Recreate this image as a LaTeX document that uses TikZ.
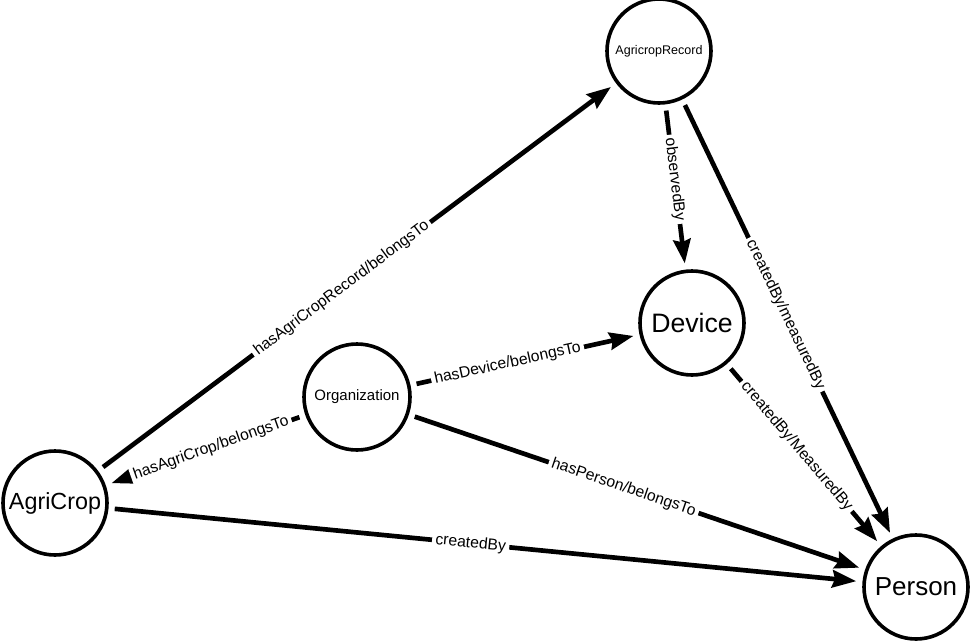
\documentclass[tikz,border=0pt]{standalone}
\usepackage{fontspec}
\setmainfont{Liberation Sans}
\usetikzlibrary{arrows.meta}
\begin{document}
\begin{tikzpicture}[x=0.75pt,y=-0.75pt,
  ent/.style={circle,draw,line width=2.7pt,minimum size=78pt,inner sep=0pt,outer sep=6pt},
  rel/.style={line width=3.5pt,-{Stealth[length=18pt,width=13pt,inset=2pt]}},
  lab/.style={fill=white,inner sep=2.5pt,font=\fontsize{11.8}{13}\selectfont,sloped}]
\useasboundingbox (0,0) rectangle (971,643);
\node[ent,font=\fontsize{9.4}{11}\selectfont] (rec) at (659,51) {AgricropRecord};
\node[ent,font=\fontsize{20}{24}\selectfont] (dev) at (692,323) {Device};
\node[ent,minimum size=79.5pt,font=\fontsize{11.25}{13}\selectfont] (org) at (357,397) {Organization};
\node[ent,font=\fontsize{17.5}{20}\selectfont] (crop) at (55,503) {AgriCrop};
\node[ent,font=\fontsize{19.5}{23}\selectfont] (per) at (916,587) {Person};

\draw[rel] (crop) -- node[lab,pos=0.47] {hasAgriCropRecord/belongsTo} (rec);
\draw[rel] (org) -- node[lab,pos=0.47] {hasAgriCrop/belongsTo} (crop);
\draw[rel] (org) -- node[lab,pos=0.42] {hasDevice/belongsTo} (dev);
\draw[rel] (org) -- node[lab,pos=0.47] {hasPerson/belongsTo} (per);
\draw[rel] (crop) -- node[lab,pos=0.48] {createdBy} (per);
\draw[rel] (rec) -- node[lab,pos=0.45] {observedBy} (dev);
\draw[rel] (rec) -- node[lab,pos=0.49] {createdBy/measuredBy} (per);
\draw[rel] (dev) -- node[lab,pos=0.45] {createdBy/MeasuredBy} (per);
\end{tikzpicture}
\end{document}
